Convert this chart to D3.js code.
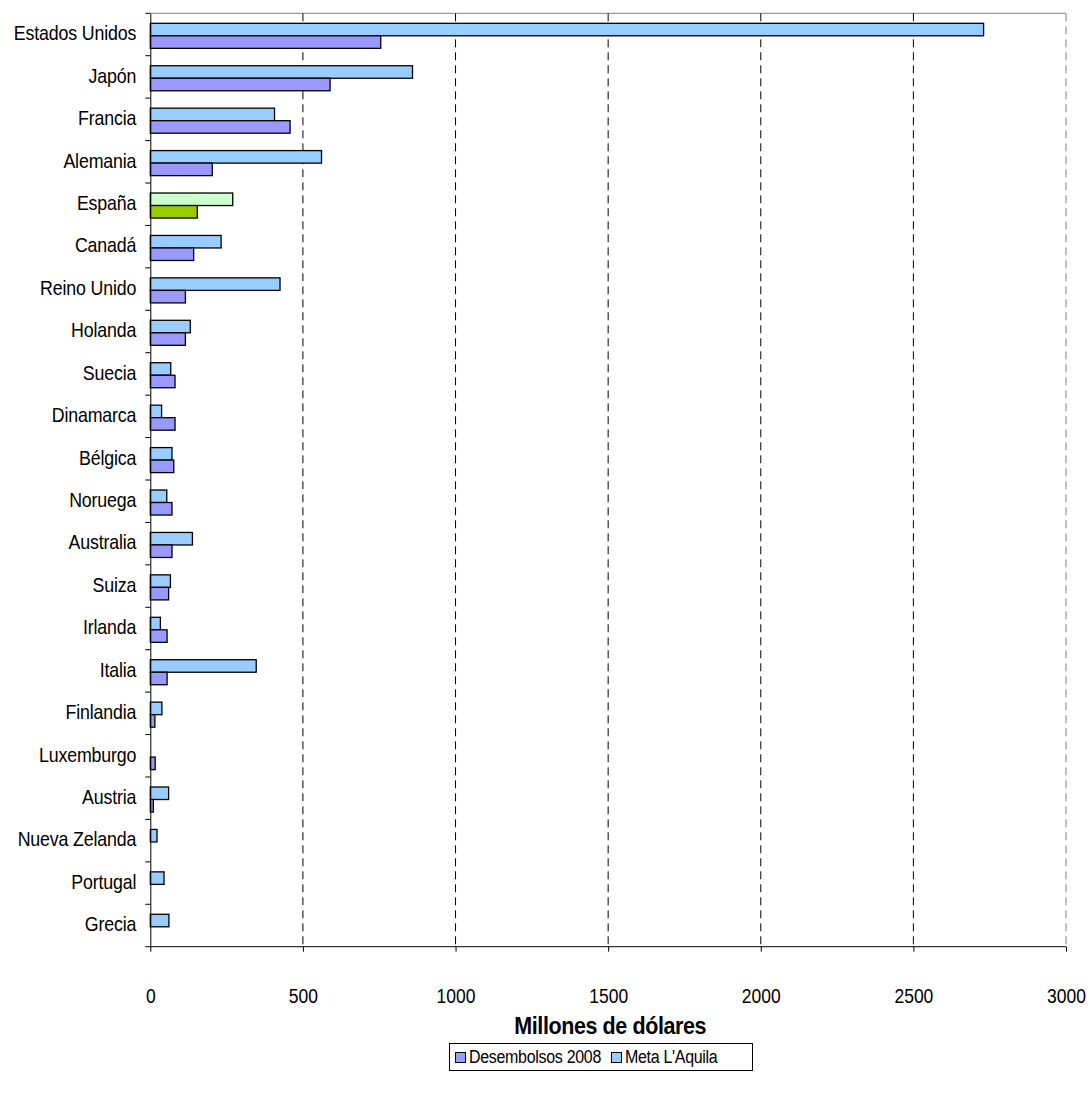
<!DOCTYPE html>
<html>
<head>
<meta charset="utf-8">
<script src="https://cdn.jsdelivr.net/npm/d3@7/dist/d3.min.js"></script>
<style>
  html, body { margin: 0; padding: 0; background: #fff; }
  svg { display: block; font-family: "Liberation Sans", Arial, sans-serif; }
</style>
</head>
<body>
<svg id="chart" width="1088" height="1101"></svg>
<script>
const categories = ["Estados Unidos","Japón","Francia","Alemania","España","Canadá","Reino Unido","Holanda","Suecia","Dinamarca","Bélgica","Noruega","Australia","Suiza","Irlanda","Italia","Finlandia","Luxemburgo","Austria","Nueva Zelanda","Portugal","Grecia"];
const metaLAquila = [2730,859,407,561,270,232,425,131,67,37,71,54,138,66,33,347,38,0,60,22,45,61];
const desembolsos2008 = [755,589,458,203,154,142,115,115,81,81,77,71,71,60,55,55,15,16,10,0,0,0];
const seriesNames = ["Desembolsos 2008","Meta L'Aquila"];
const xTicks = [0,500,1000,1500,2000,2500,3000];
const xTitle = "Millones de dólares";

(function(){
const svg = d3.select("#chart");
const mLeft = 150.3, mRight = 1066, mTop = 13.3, mBottom = 946.7;
const SY = 1.12; // vertical text stretch

const x = d3.scaleLinear().domain([0,3000]).range([mLeft,mRight]);
const y = d3.scaleBand().domain(categories).range([mTop,mBottom]).padding(0);
const bw = y.bandwidth();
const sub = d3.scaleBand().domain(["meta","des"]).range([bw*0.236, bw*0.826]);

// top border
svg.append("line").attr("x1",mLeft).attr("x2",mRight).attr("y1",mTop).attr("y2",mTop)
  .attr("stroke","#808080").attr("stroke-width",1);

// gridlines
svg.append("g").selectAll("line").data(xTicks.slice(1)).join("line")
  .attr("x1",d=>x(d)).attr("x2",d=>x(d)).attr("y1",mTop).attr("y2",mBottom)
  .attr("stroke",d=> d===3000 ? "#808080" : "#000").attr("stroke-width",1)
  .attr("stroke-dasharray","8,5");

// bars
const rows = categories.map((c,i)=>({c, meta: metaLAquila[i], des: desembolsos2008[i], spain: c==="España"}));
const g = svg.append("g");
rows.forEach(r=>{
  [["meta", r.meta], ["des", r.des]].forEach(([k,v])=>{
    if (v <= 0) return;
    let fill;
    if (r.spain) fill = k==="meta" ? "#CCFFCC" : "#99CC00";
    else fill = k==="meta" ? "#99CCFF" : "#9999FF";
    g.append("rect")
      .attr("x", x(0))
      .attr("y", y(r.c) + sub(k))
      .attr("width", x(v)-x(0))
      .attr("height", sub.bandwidth())
      .attr("fill", fill)
      .attr("stroke","#000").attr("stroke-width",1.3);
  });
});

// y axis
const yAxis = d3.axisLeft(y).tickSize(0).tickPadding(14);
const ya = svg.append("g").attr("transform",`translate(${mLeft},0)`).call(yAxis);
ya.select(".domain").attr("stroke","#000");
ya.selectAll(".tick").attr("transform", d=>`translate(0,${y(d)+bw/2 - 1})`);
ya.selectAll("text").attr("font-size","17.8px").attr("fill","#000").style("letter-spacing","-0.15px")
  .attr("font-family","'Liberation Sans', Arial, sans-serif")
  .attr("dy","0.34em").attr("transform",`scale(1,${SY})`);
// category boundary ticks
const bounds = categories.map(c=>y(c)).concat([mBottom]);
svg.append("g").selectAll("line").data(bounds).join("line")
  .attr("x1",mLeft-5).attr("x2",mLeft).attr("y1",d=>d).attr("y2",d=>d)
  .attr("stroke","#000").attr("stroke-width",1);

// x axis
const xAxis = d3.axisBottom(x).tickValues(xTicks).tickSize(5).tickFormat(d3.format("d"));
const xa = svg.append("g").attr("transform",`translate(0,${mBottom})`).call(xAxis);
xa.select(".domain").attr("d",`M${mLeft},0H${mRight}`).attr("stroke","#000");
xa.selectAll("text").attr("font-size","17.5px").attr("fill","#000")
  .attr("font-family","'Liberation Sans', Arial, sans-serif")
  .attr("dy",null).attr("y", 56/SY).attr("transform",`scale(1,${SY})`);

// x title
svg.append("text").attr("transform",`translate(${(mLeft+mRight)/2 + 2},1034) scale(1,1.12)`)
  .attr("text-anchor","middle")
  .attr("font-size","21.5px").attr("font-weight","bold").style("letter-spacing","-0.4px").text(xTitle);

// legend
const lg = svg.append("g");
lg.append("rect").attr("x",449.5).attr("y",1043.5).attr("width",303).attr("height",27)
  .attr("fill","#fff").attr("stroke","#000").attr("stroke-width",1);
const legItems = [
  {name: seriesNames[0], fill:"#9999FF", x:455},
  {name: seriesNames[1], fill:"#99CCFF", x:611}
];
legItems.forEach(it=>{
  lg.append("rect").attr("x",it.x+0.5).attr("y",1052.5).attr("width",10).attr("height",10)
    .attr("fill",it.fill).attr("stroke","#000").attr("stroke-width",1);
  lg.append("text").attr("transform",`translate(${it.x+14},1063) scale(1,1.1)`)
    .attr("font-size","16px").style("letter-spacing","-0.3px")
    .text(it.name);
});
})();
</script>
</body>
</html>
